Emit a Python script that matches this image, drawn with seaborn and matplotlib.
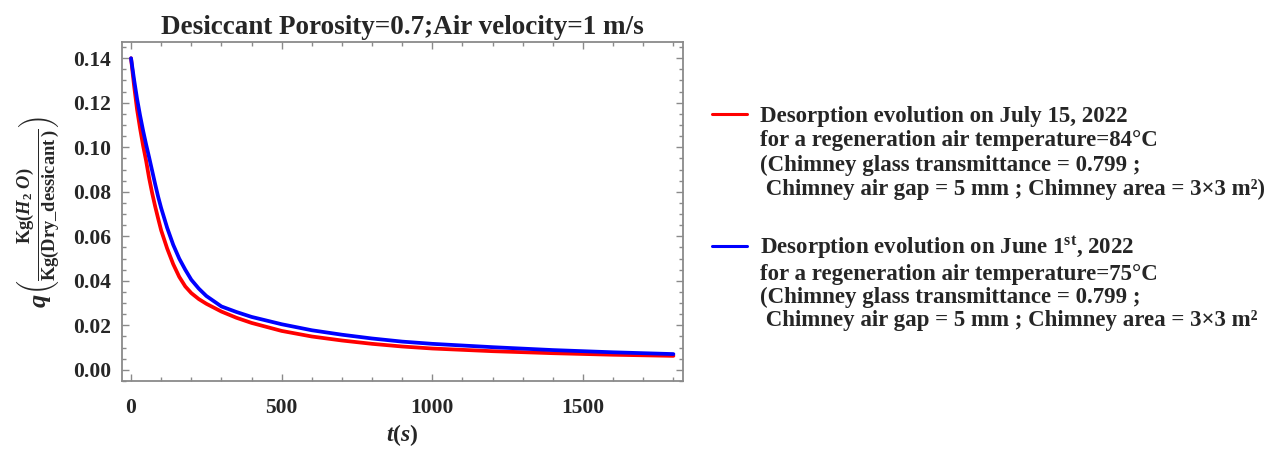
import numpy as np
import pandas as pd
import matplotlib
matplotlib.use("Agg")
import matplotlib.pyplot as plt
import seaborn as sns
from matplotlib.ticker import MultipleLocator, FixedLocator
from matplotlib.lines import Line2D

# ---------------- data ----------------
time_s = [0, 10, 20, 30, 40, 50, 60, 70, 80, 90, 100, 120, 140, 160, 180,
          200, 225, 250, 300, 350, 400, 500, 600, 700, 800, 900, 1000, 1200,
          1400, 1600, 1800]
q_july15 = [0.1400, 0.1278, 0.1170, 0.1085, 0.1008, 0.0940, 0.0862, 0.0795,
            0.0735, 0.0680, 0.0627, 0.0545, 0.0475, 0.0418, 0.0375, 0.0345,
            0.0318, 0.0297, 0.0262, 0.0234, 0.0211, 0.0175, 0.0150, 0.0132,
            0.0117, 0.0105, 0.0096, 0.0084, 0.0075, 0.0068, 0.0063]
q_june1 = [0.1400, 0.1305, 0.1218, 0.1143, 0.1075, 0.1013, 0.0955, 0.0895,
           0.0835, 0.0778, 0.0727, 0.0638, 0.0562, 0.0500, 0.0450, 0.0405,
           0.0365, 0.0332, 0.0285, 0.0260, 0.0238, 0.0205, 0.0178, 0.0158,
           0.0141, 0.0127, 0.0117, 0.0102, 0.0089, 0.0079, 0.0071]

series_names = ["July 15, 2022", "June 1st, 2022"]
series_colors = ["#ff0000", "#0000ff"]

legend_july = ["Desorption evolution on July 15, 2022",
               "for a regeneration air temperature=84°C",
               "(Chimney glass transmittance = 0.799 ;",
               " Chimney air gap = 5 mm ; Chimney area = 3×3 m²)"]
legend_june = [r"Desorption evolution on June 1$^{\mathrm{st}}$, 2022",
               "for a regeneration air temperature=75°C",
               "(Chimney glass transmittance = 0.799 ;",
               " Chimney air gap = 5 mm ; Chimney area = 3×3 m²"]

x_ticks = [0, 500, 1000, 1500]
y_ticks = [0.00, 0.02, 0.04, 0.06, 0.08, 0.10, 0.12, 0.14]

title = "Desiccant Porosity=0.7;Air velocity=1 m/s"
xlabel = r"$t(s)$"
ylabel = r"$q\left(\frac{\mathrm{Kg}(H_2\ O)}{\mathrm{Kg(Dry\_dessicant\,)}}\right)$"

# ---------------- style ----------------
sns.set_theme(style="white")
plt.rcParams["font.family"] = ["Liberation Serif", "DejaVu Serif"]
plt.rcParams["font.weight"] = "bold"
plt.rcParams["mathtext.fontset"] = "custom"
plt.rcParams["mathtext.rm"] = "Liberation Serif:bold"
plt.rcParams["mathtext.it"] = "Liberation Serif:italic:bold"
plt.rcParams["mathtext.bf"] = "Liberation Serif:bold"

df = pd.DataFrame({
    "t": time_s * 2,
    "q": q_july15 + q_june1,
    "series": [series_names[0]] * len(time_s) + [series_names[1]] * len(time_s),
})

fig = plt.figure(figsize=(12.76, 4.5), dpi=100)
ax = fig.add_axes([0.0956, 0.1533, 0.4397, 0.7534])

sns.lineplot(data=df, x="t", y="q", hue="series", hue_order=series_names,
             palette=series_colors, linewidth=2.7, ax=ax, legend=False,
             sort=True)

ax.set_xlim(-30, 1832)
ax.set_ylim(-0.0050, 0.1473)
ax.xaxis.set_major_locator(FixedLocator(x_ticks))
ax.xaxis.set_minor_locator(MultipleLocator(100))
ax.yaxis.set_major_locator(FixedLocator(y_ticks))
ax.yaxis.set_minor_locator(MultipleLocator(0.005))
ax.set_xticklabels([str(v) for v in x_ticks])
ax.set_yticklabels([f"{v:.2f}" for v in y_ticks])

frame_col = "#8a8a8a"
for s in ax.spines.values():
    s.set_color(frame_col)
    s.set_linewidth(1.3)
ax.tick_params(which="both", direction="in", top=True, right=True,
               bottom=True, left=True, color=frame_col, width=1.0)
ax.tick_params(which="major", length=5, labelsize=15.5)
ax.tick_params(axis="x", which="major", pad=12)
ax.tick_params(axis="y", which="major", pad=8)
ax.tick_params(which="minor", length=3)

ax.set_title(title, fontsize=19.5, fontweight="bold", pad=6)
ax.set_xlabel(xlabel, fontsize=17, labelpad=3)
ax.set_ylabel(ylabel, fontsize=19, labelpad=8)

blank = Line2D([], [], color="none")

for txts, col, ytop, ls in [(legend_july, series_colors[0], 0.764, 0.14),
                            (legend_june, series_colors[1], 0.478, 0.09)]:
    h = [Line2D([], [], color=col, linewidth=2.2), blank, blank, blank]
    fig.legend(h, txts, loc="upper left", bbox_to_anchor=(0.558, ytop),
               frameon=False, handlelength=1.53, handletextpad=0.57,
               labelspacing=ls, borderpad=0, borderaxespad=0,
               prop={"family": "Liberation Serif", "weight": "bold",
                     "size": 16.5})

fig.savefig("out.png", dpi=100)
